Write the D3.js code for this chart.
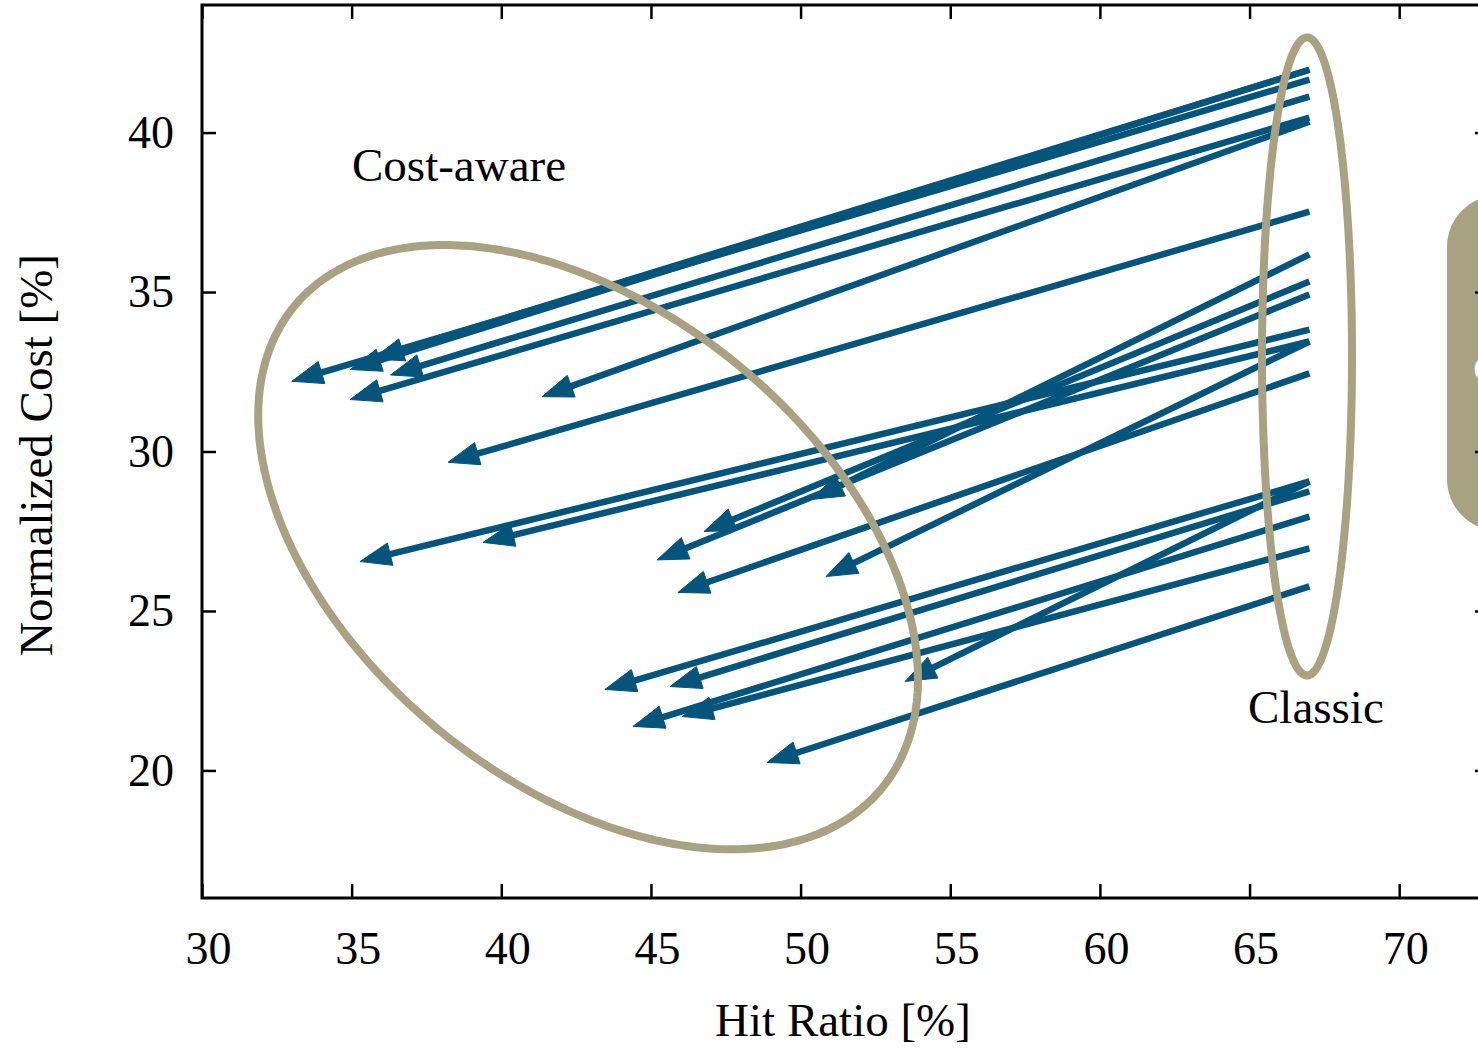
<!DOCTYPE html>
<html>
<head>
<meta charset="utf-8">
<script src="https://cdn.jsdelivr.net/npm/d3@7"></script>
<style>
  html, body { margin: 0; padding: 0; background: #fff; }
  svg { display: block; }
  text { font-family: "Liberation Serif", "Times New Roman", serif; fill: #000; }
</style>
</head>
<body>
<svg id="chart" width="1478" height="1048"></svg>
<script>
// ---- data ----
const xTicks = [30, 35, 40, 45, 50, 55, 60, 65, 70];
const yTicks = [20, 25, 30, 35, 40];
// Each arrow goes from the "Classic" point to the "Cost-aware" point
const classicHit  = [67, 67, 67, 67, 67, 67, 67, 67, 67, 67, 67, 67, 67, 67, 67, 67, 67, 67, 67, 67];
const classicCost = [41.97, 41.97, 41.66, 41.13, 40.47, 40.34, 37.52, 36.18, 35.33, 34.92,
                     33.82, 33.45, 33.45, 32.45, 29.06, 29.06, 28.75, 27.96, 26.96, 25.77];
const awareHit    = [35.7, 34.95, 33.0, 36.3, 34.95, 41.36, 38.22, 50.4, 46.77, 45.2,
                     35.28, 39.39, 50.85, 45.9, 43.46, 53.49, 45.64, 44.4, 46.04, 48.88];
const awareCost   = [32.9, 32.57, 32.2, 32.4, 31.63, 31.72, 29.66, 28.5, 27.49, 26.6,
                     26.55, 27.15, 26.08, 25.58, 22.54, 22.79, 22.63, 21.38, 21.69, 20.25];
const groupLabels = ["Cost-aware", "Classic"];
const xTitle = "Hit Ratio [%]";
const yTitle = "Normalized Cost [%]";

// ---- layout ----
const plotL = 202, plotT = 5, plotB = 898;
const x = d3.scaleLinear().domain([30, 73]).range([plotL, plotL + 43 * 29.93]);
const y = d3.scaleLinear().domain([16, 44]).range([plotB, plotT]);
const plotR = x(73);

const arrowColor = "#04547b";
const khaki = "#a8a283";

const svg = d3.select("#chart");

// ---- arrows ----
const arrows = classicHit.map((d, i) => ({x0: d, y0: classicCost[i], x1: awareHit[i], y1: awareCost[i]}));
const headLen = 31, headHalf = 11.5;
const ag = svg.append("g");
arrows.forEach(a => {
  const sx = x(a.x0), sy = y(a.y0), ex = x(a.x1), ey = y(a.y1);
  const dx = sx - ex, dy = sy - ey, L = Math.hypot(dx, dy);
  const ux = dx / L, uy = dy / L;
  const bx = ex + ux * headLen, by = ey + uy * headLen;
  ag.append("line")
    .attr("x1", sx).attr("y1", sy).attr("x2", bx - ux * 2).attr("y2", by - uy * 2)
    .attr("stroke", arrowColor).attr("stroke-width", 6.5).attr("stroke-linecap", "butt");
  const px = -uy, py = ux;
  ag.append("path")
    .attr("d", `M${ex},${ey}L${bx + px * headHalf},${by + py * headHalf}L${bx - px * headHalf},${by - py * headHalf}Z`)
    .attr("fill", arrowColor).attr("stroke", arrowColor).attr("stroke-width", 1);
});

// ---- ellipses ----
function ellipsePath(cx, cy, a, b, deg) {
  const th = deg * Math.PI / 180, pts = [];
  for (let k = 0; k <= 360; k++) {
    const t = k * Math.PI / 180;
    const ex = a * Math.cos(t), ey = b * Math.sin(t);
    pts.push([cx + ex * Math.cos(th) - ey * Math.sin(th), cy + ex * Math.sin(th) + ey * Math.cos(th)]);
  }
  return d3.line()(pts) + "Z";
}
svg.append("path").attr("d", ellipsePath(x(42.9), y(27.0), 380, 236, 39.3))
  .attr("fill", "none").attr("stroke", khaki).attr("stroke-width", 8);
svg.append("path").attr("d", ellipsePath(x(66.92), y(32.98), 45, 319, 0))
  .attr("fill", "none").attr("stroke", khaki).attr("stroke-width", 8);

// ---- labels ----
svg.append("text").attr("x", 352).attr("y", 181).attr("font-size", 47).text(groupLabels[0]);
svg.append("text").attr("x", 1248).attr("y", 723).attr("font-size", 47).text(groupLabels[1]);

// legend-like box at right edge (cropped)
svg.append("rect").attr("x", 1447).attr("y", 195).attr("width", 160).attr("height", 336)
  .attr("rx", 52).attr("ry", 52).attr("fill", khaki);
svg.append("text").attr("x", 1473).attr("y", 380).attr("font-size", 47).style("fill", "#fff").text("o");

// ---- axes ----
const tickStyle = g => {
  g.select(".domain").remove();
  g.selectAll(".tick line").attr("stroke", "#000").attr("stroke-width", 2.5);
  g.selectAll(".tick text").attr("font-size", 46).attr("font-family", "Liberation Serif, Times New Roman, serif").attr("fill", "#000");
};
svg.append("g").attr("transform", `translate(0,${plotB})`)
  .call(d3.axisBottom(x).tickValues(xTicks).tickSizeInner(-14).tickSizeOuter(0).tickPadding(33).tickFormat(d3.format("d")))
  .call(tickStyle)
  .call(g => g.selectAll(".tick text").attr("dx", 6));
svg.append("g").attr("transform", `translate(0,${plotT})`)
  .call(d3.axisTop(x).tickValues(xTicks).tickSizeInner(-14).tickSizeOuter(0).tickFormat(""))
  .call(tickStyle);
svg.append("g").attr("transform", `translate(${plotL},0)`)
  .call(d3.axisLeft(y).tickValues(yTicks).tickSizeInner(-14).tickSizeOuter(0).tickPadding(28).tickFormat(d3.format("d")))
  .call(tickStyle);
svg.append("g").attr("transform", `translate(${plotR},0)`)
  .call(d3.axisRight(y).tickValues(yTicks).tickSizeInner(-14).tickSizeOuter(0).tickFormat(""))
  .call(tickStyle);

// frame
svg.append("rect").attr("x", plotL).attr("y", plotT).attr("width", plotR - plotL).attr("height", plotB - plotT)
  .attr("fill", "none").attr("stroke", "#000").attr("stroke-width", 3);

// titles
svg.append("text").attr("x", 843).attr("y", 1036).attr("text-anchor", "middle").attr("font-size", 47).text(xTitle);
svg.append("text").attr("transform", "translate(52,455) rotate(-90)").attr("text-anchor", "middle").attr("font-size", 47).text(yTitle);
</script>
</body>
</html>
